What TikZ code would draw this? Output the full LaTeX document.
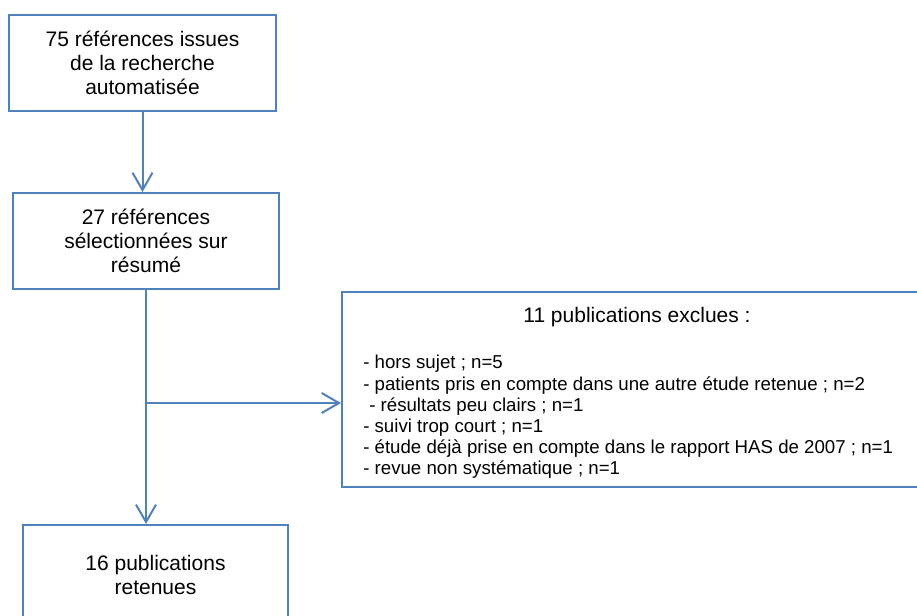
\documentclass[tikz,border=0pt]{standalone}
\usepackage{fontspec}
\setmainfont{Liberation Sans}
\usepackage{tikz}
\usetikzlibrary{arrows.meta}

\definecolor{boxblue}{RGB}{79,129,189}
\tikzset{
  stagebox/.style={draw=boxblue, line width=1.5pt, rectangle, align=center, inner sep=0pt, font=\fontsize{15.75}{18}\selectfont},
  flowarrow/.style={draw=boxblue, line width=1.5pt, -{Straight Barb[length=13pt,width=15pt]}},
}

\begin{document}
\begin{tikzpicture}[x=0.75pt,y=0.75pt,yscale=-1,xscale=1]
\useasboundingbox (0,0) rectangle (917,615);
\clip (0,0) rectangle (917,615);

%Shape: Rectangle
\node[stagebox, minimum width=200.25pt, minimum height=72pt] (search) at (142.5,63) {75 références issues\\de la recherche\\automatisée};
%Shape: Rectangle
\node[stagebox, minimum width=199.5pt, minimum height=72pt] (abstract) at (146,241) {27 références\\sélectionnées sur\\résumé};
%Shape: Rectangle
\node[stagebox, minimum width=198.75pt, minimum height=74.25pt] (kept) at (155.5,574.5) {16 publications\\retenues};
%Shape: Rectangle
\node[stagebox, minimum width=442.5pt, minimum height=146.25pt] (excluded) at (637,389.5) {};

% Text Node
\node[font=\fontsize{15.75}{18}\selectfont, inner sep=0pt] (exctitle) at (637,317) {11 publications exclues :};
% Text Node
\node[font=\fontsize{14}{15.9}\selectfont, inner sep=0pt, align=left, anchor=west] (exclist) at (363,417) {- hors sujet ; n=5\\- patients pris en compte dans une autre étude retenue ; n=2\\\hspace{4.5pt}- résultats peu clairs ; n=1\\- suivi trop court ; n=1\\- étude déjà prise en compte dans le rapport HAS de 2007 ; n=1\\- revue non systématique ; n=1};

%Straight Lines
\draw[flowarrow] (search.south) -- (search.south |- abstract.north);
%Straight Lines
\draw[flowarrow] (abstract.south) -- (abstract.south |- kept.north);
%Straight Lines
\coordinate (split) at (146,403);
\draw[flowarrow] (split) -- (split -| excluded.west);

\end{tikzpicture}
\end{document}
